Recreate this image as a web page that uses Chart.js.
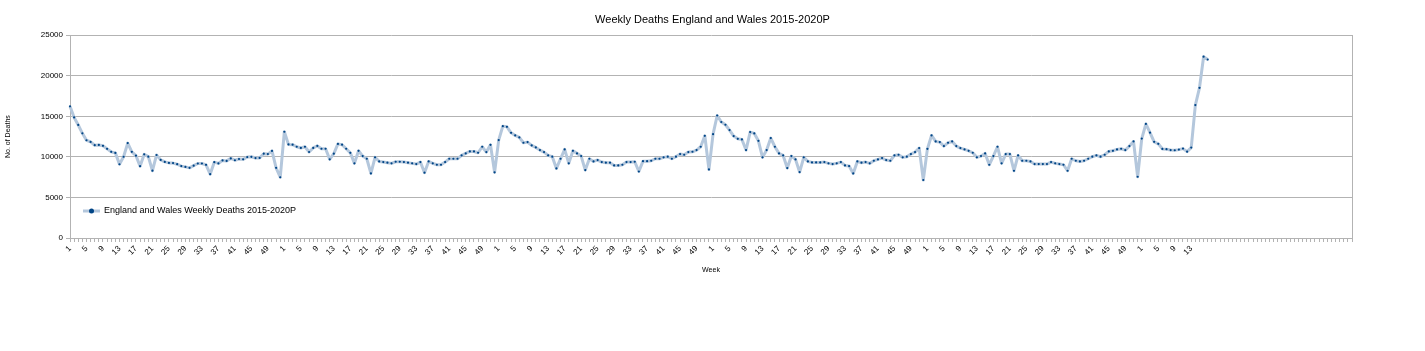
<!DOCTYPE html>
<html>
<head>
<meta charset="utf-8">
<script src="https://cdn.jsdelivr.net/npm/chart.js@4.4.1/dist/chart.umd.min.js"></script>
<style>
  html, body { margin: 0; padding: 0; background: #fff; }
  #wrap { width: 1425px; height: 351px; position: relative; }
</style>
</head>
<body>
<div id="wrap"><canvas id="deathsChart"></canvas></div>
<script>
// week numbers used as categories
const weeks = [1,2,3,4,5,6,7,8,9,10,11,12,13,14,15,16,17,18,19,20,21,22,23,24,25,26,
  27,28,29,30,31,32,33,34,35,36,37,38,39,40,41,42,43,44,45,46,47,48,49,50,51,52];
const weeks2020 = [1,2,3,4,5,6,7,8,9,10,11,12,13,14,15,16,''];
const blankWeeks = 35; // empty slots left on the axis after the last week

const deaths2015 = [16237,14866,13934,12900,12048,11845,11439,11468,11363,10988,
  10622,10493,9091,10014,11696,10617,10154,8851,10318,10029,
  8294,10233,9629,9382,9257,9236,9098,8862,8766,8648,
  8912,9181,9187,9021,7872,9348,9193,9565,9505,9812,
  9587,9736,9700,9980,10012,9858,9876,10394,10343,10730,
  8656,7487];
const deaths2016 = [13100,11540,11500,11250,11100,11250,10600,11100,11350,11000,
  11000,9700,10400,11600,11500,11000,10500,9200,10750,10100,
  9770,7960,9940,9440,9360,9280,9200,9400,9400,9360,
  9280,9200,9110,9360,8050,9440,9200,9030,9030,9360,
  9770,9770,9770,10180,10430,10670,10670,10510,11250,10590,
  11490,8090];
const deaths2017 = [12070,13790,13710,12970,12640,12400,11740,11820,11410,11170,
  10840,10590,10180,10020,8580,9770,10920,9200,10750,10430,
  10100,8370,9770,9440,9610,9360,9280,9280,8950,8950,
  9030,9360,9360,9400,8200,9470,9470,9520,9770,9770,
  9940,10020,9770,10020,10350,10260,10590,10630,10840,11250,
  12600,8450];
const deaths2018 = [12800,15100,14300,13960,13300,12560,12230,12150,10840,13060,
  12890,11980,9940,10840,12320,11250,10430,10180,8620,10100,
  9690,8130,9940,9440,9320,9320,9320,9360,9200,9110,
  9200,9360,8950,8870,7960,9440,9280,9360,9200,9520,
  9690,9850,9610,9520,10180,10260,9940,10020,10350,10590,
  11080,7150];
const deaths2019 = [10990,12640,11900,11820,11330,11740,11900,11330,11080,10920,
  10750,10510,9940,10100,10430,9030,10100,11250,9200,10350,
  10350,8290,10180,9520,9520,9440,9110,9110,9110,9110,
  9360,9200,9110,9030,8290,9770,9520,9440,9520,9770,
  10020,10180,10020,10260,10670,10750,10920,11000,10840,11330,
  11900,7550];
const deaths2020 = [12254,14058,12990,11856,11612,10986,10944,10841,10816,10895,
  11019,10645,11141,16387,18516,22351,21997];

const yTicks = [0, 5000, 10000, 15000, 20000, 25000];

const labels = [].concat(weeks, weeks, weeks, weeks, weeks, weeks2020,
  new Array(blankWeeks).fill(''));
const values = [].concat(deaths2015, deaths2016, deaths2017, deaths2018, deaths2019, deaths2020);

const lineColor = '#b4c7dc';
const pointColor = '#004586';
const gridColor = '#b3b3b3';
const fontFamily = '"Liberation Sans", Arial, sans-serif';

// legend sits inside the plot, bottom left
const insideLegend = {
  id: 'insideLegend',
  afterDraw(chart) {
    const ctx = chart.ctx;
    const area = chart.chartArea;
    const x = area.left + 13;
    const y = area.bottom - 27;
    ctx.save();
    ctx.strokeStyle = lineColor;
    ctx.lineWidth = 3;
    ctx.beginPath();
    ctx.moveTo(x, y);
    ctx.lineTo(x + 17, y);
    ctx.stroke();
    ctx.fillStyle = pointColor;
    ctx.beginPath();
    ctx.arc(x + 8.5, y, 2.5, 0, Math.PI * 2);
    ctx.fill();
    ctx.fillStyle = '#000';
    ctx.font = '9px ' + fontFamily;
    ctx.textBaseline = 'middle';
    ctx.fillText(chart.data.datasets[0].label, x + 21, y);
    ctx.restore();
  }
};

const ctx = document.getElementById('deathsChart').getContext('2d');
new Chart(ctx, {
  type: 'line',
  data: {
    labels: labels,
    datasets: [{
      label: 'England and Wales Weekly Deaths 2015-2020P',
      data: values,
      borderColor: lineColor,
      borderWidth: 3,
      borderJoinStyle: 'round',
      pointRadius: 1.1,
      pointBackgroundColor: pointColor,
      pointBorderWidth: 0,
      tension: 0,
      fill: false
    }]
  },
  options: {
    responsive: true,
    maintainAspectRatio: false,
    animation: false,
    layout: { padding: { left: 0, right: 0, top: 0, bottom: 73 } },
    plugins: {
      legend: { display: false },
      tooltip: { enabled: false },
      title: {
        display: true,
        text: 'Weekly Deaths England and Wales 2015-2020P',
        color: '#000',
        font: { family: fontFamily, size: 11, weight: 'normal' },
        padding: { top: 13, bottom: 9 }
      }
    },
    scales: {
      x: {
        offset: false,
        afterFit(scale) { scale.height = 40; },
        grid: { drawOnChartArea: false, drawTicks: true, tickLength: 4, color: gridColor },
        border: { color: gridColor },
        ticks: {
          autoSkip: false,
          minRotation: 45,
          maxRotation: 45,
          padding: 2,
          color: '#000',
          font: { family: fontFamily, size: 8 },
          callback: function (value, index) {
            return index % 4 === 0 ? this.getLabelForValue(value) : '';
          }
        },
        title: {
          display: true,
          text: 'Week',
          color: '#000',
          font: { family: fontFamily, size: 7 },
          padding: { top: 0, bottom: 4 }
        }
      },
      y: {
        min: yTicks[0],
        max: yTicks[yTicks.length - 1],
        afterFit(scale) { scale.width = 70; },
        afterBuildTicks(scale) { scale.ticks = yTicks.map(v => ({ value: v })); },
        grid: { color: gridColor, tickLength: 4 },
        border: { color: gridColor },
        ticks: {
          padding: 3,
          color: '#000',
          font: { family: fontFamily, size: 8 },
          callback: v => String(v)
        },
        title: {
          display: true,
          text: 'No. of Deaths',
          color: '#000',
          font: { family: fontFamily, size: 7 },
          padding: { top: 4, bottom: 0 }
        }
      },
      // empty right-hand side, its border is the right edge of the plot wall
      yRight: {
        position: 'right',
        afterFit(scale) { scale.width = 73; },
        grid: { drawOnChartArea: false, drawTicks: false },
        border: { color: gridColor },
        ticks: { display: false }
      }
    }
  },
  plugins: [insideLegend]
});
</script>
</body>
</html>
